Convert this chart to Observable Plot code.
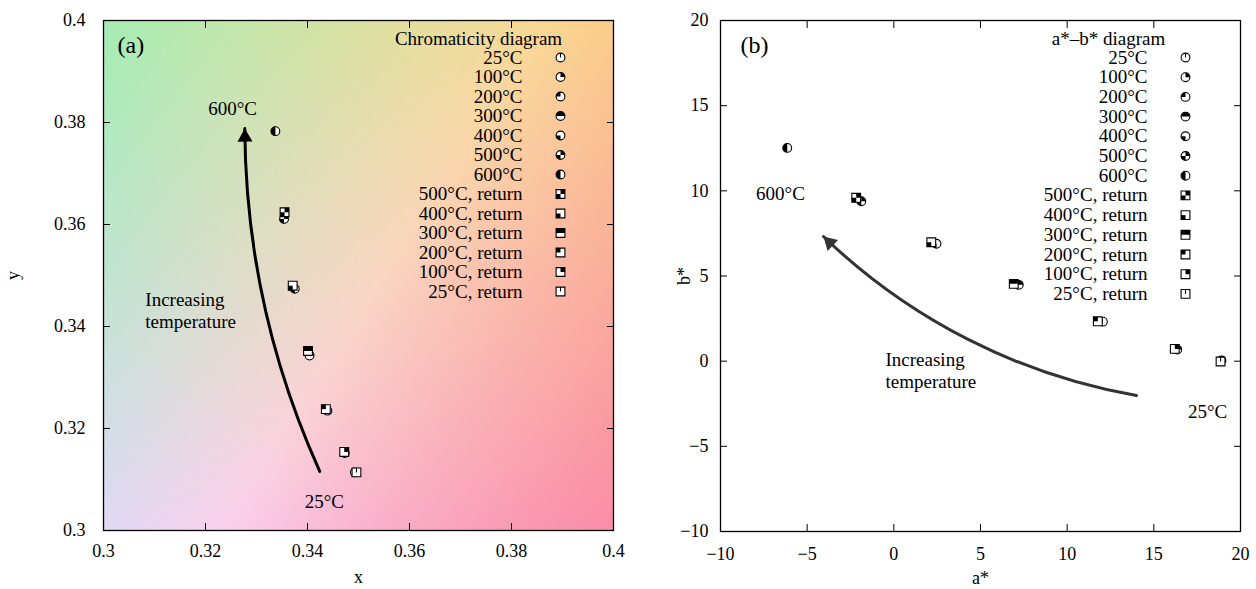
<!DOCTYPE html>
<html><head><meta charset="utf-8">
<script src="https://cdn.jsdelivr.net/npm/d3@7"></script>
<script src="https://cdn.jsdelivr.net/npm/@observablehq/plot@0.6"></script>
<style>
html,body{margin:0;padding:0;background:#fff;}
#wrap{position:relative;width:1256px;height:589px;overflow:hidden;}
#wrap svg{position:absolute;top:0;}
</style></head><body><div id="wrap"></div>
<script>
// ---------- data ----------
const heatLabels = ["25°C","100°C","200°C","300°C","400°C","500°C","600°C"];
const heatCodes = [0,1,2,3,4,5,6];
const returnLabels = ["500°C, return","400°C, return","300°C, return","200°C, return","100°C, return","25°C, return"];
const returnCodes = [5,4,3,2,1,0];

// panel (a): chromaticity x, y
const heatX = [0.3493,0.3473,0.3439,0.3404,0.3375,0.3354,0.3337];
const heatY = [0.3114,0.3152,0.3235,0.3343,0.3474,0.3611,0.3783];
const retX  = [0.3355,0.3371,0.3401,0.3436,0.3472,0.3496];
const retY  = [0.3624,0.3480,0.3352,0.3238,0.3154,0.3114];

// panel (b): a*, b*
const heatA = [18.9,16.35,12.06,7.21,2.46,-1.88,-6.15];
const heatB = [0.04,0.68,2.32,4.48,6.89,9.39,12.52];
const retA  = [-2.17,2.16,6.92,11.77,16.21,18.85];
const retB  = [9.59,6.98,4.54,2.34,0.72,-0.02];

const ticksA = [0.3,0.32,0.34,0.36,0.38,0.4];
const ticksB = [-10,-5,0,5,10,15,20];

const legendTitleA = "Chromaticity diagram";
const legendTitleB = "a*–b* diagram";

// annotations
const arrowA = {x1:0.3424, y1:0.3116, x2:0.3277, y2:0.3788};
const arrowB = {x1:14.0, y1:-2.02, x2:-4.06, y2:7.32};
const notesAText = ["600°C","Increasing\ntemperature","25°C"];
const notesAX = [0.3253,0.3082,0.3433];
const notesAY = [0.3828,0.3433,0.3057];
const notesBText = ["600°C","Increasing\ntemperature","25°C"];
const notesBX = [-6.54,-0.48,18.1];
const notesBY = [9.9,-0.52,-2.9];
const notesAnchor = ["middle","start","middle"];

// ---------- helpers ----------
const FONT = "'Liberation Serif','Times New Roman',serif";
const R = 4.4;
const radius = size => Math.sqrt(size/Math.PI);
const baseSym = {
  circle:{draw(ctx,size){const r=radius(size);ctx.moveTo(r,0);ctx.arc(0,0,r,0,2*Math.PI);ctx.closePath();}},
  square:{draw(ctx,size){const r=radius(size);ctx.rect(-r,-r,2*r,2*r);}}
};
function fillSym(shape, code){
  return {draw(ctx,size){
    const r = radius(size);
    const q4 = [[-Math.PI/2,0,0,-1],[-Math.PI,-Math.PI/2,-1,-1],[Math.PI/2,Math.PI,-1,0],[0,Math.PI/2,0,0]];
    for (let q=0;q<4;q++) if (code & (1<<q)) {
      const [a0,a1,ox,oy] = q4[q];
      if (shape==="circle"){ctx.moveTo(0,0);ctx.arc(0,0,r,a0,a1);ctx.closePath();}
      else ctx.rect(ox*r,oy*r,r,r);
    }
  }};
}
const tickSym = {draw(ctx,size){const r=radius(size);ctx.moveTo(0,0);ctx.lineTo(0,-r);}};
const headSym = {draw(ctx){ctx.moveTo(0,0);ctx.lineTo(-7.5,13);ctx.lineTo(7.5,13);ctx.closePath();}};

function markerMarks(shape, code, pos){
  const out = [Plot.dot([0], {...pos, symbol: baseSym[shape], r: R, fill:"white", stroke:"black", strokeWidth:1.1})];
  if (code > 0) out.push(Plot.dot([0], {...pos, symbol: fillSym(shape, code), r: R, fill:"black", stroke:"none"}));
  else out.push(Plot.dot([0], {...pos, symbol: tickSym, r: R, fill:"none", stroke:"black", strokeWidth:1.1}));
  return out;
}
function seriesMarks(xs, ys, codes, shape){
  const out = [];
  xs.forEach((_, i) => out.push(...markerMarks(shape, codes[i], {x: () => xs[i], y: () => ys[i]})));
  return out;
}
function legendMarks(title, cfg){
  const out = [Plot.text([title], {text: d=>d, frameAnchor:"top-right", dx: cfg.titleDx, dy: 18, textAnchor:"middle", lineAnchor:"middle", fontSize: 19})];
  const rows = heatLabels.map((l,i)=>({l, shape:"circle", code: heatCodes[i]}))
    .concat(returnLabels.map((l,i)=>({l, shape:"square", code: returnCodes[i]})));
  rows.forEach((row, i) => {
    const dy = cfg.dy0 + cfg.step*i;
    out.push(Plot.text([row.l], {text: d=>d, frameAnchor:"top-right", dx: cfg.textDx, dy, textAnchor:"end", lineAnchor:"middle", fontSize: 19}));
    out.push(...markerMarks(row.shape, row.code, {frameAnchor:"top-right", dx: cfg.markDx, dy}));
  });
  return out;
}
function noteMarks(texts, xs, ys){
  return texts.map((t,i)=>Plot.text([t], {text:d=>d, x:()=>xs[i], y:()=>ys[i], textAnchor: notesAnchor[i], lineAnchor:"middle", fontSize: 19, lineHeight: 1.16}));
}
// CIE xy -> sRGB background colour (fixed luminance, soft clipping)
function chroma(x, y){
  const S = 0.75;
  const X = x/y, Y = 1, Z = (1-x-y)/y;
  const r = S*(3.2406*X - 1.5372*Y - 0.4986*Z);
  const g = S*(-0.9689*X + 1.8758*Y + 0.0415*Z);
  const b = S*(0.0557*X - 0.2040*Y + 1.0570*Z);
  const m = Math.max(1, r, g, b);
  const gam = v => { v = Math.max(0, v/m); return v <= 0.0031308 ? 12.92*v : 1.055*Math.pow(v,1/2.4)-0.055; };
  const k = 0.98*255;
  return `rgb(${Math.round(gam(r)*k)},${Math.round(gam(g)*k)},${Math.round(gam(b)*k)})`;
}
const fmtA = d => String(+d.toFixed(2));
const fmtB = d => d < 0 ? "\u2212" + (-d) : String(d);

function axes(ticksX, ticksY, fmtX, fmtY, o){
  return [
    Plot.axisX({ticks: ticksX, tickSize: -7, tickPadding: o.xPad, tickFormat: fmtX, label: o.xLabel, labelAnchor:"center", labelOffset: o.xLabelOffset, labelArrow:"none"}),
    Plot.axisX({anchor:"top", ticks: ticksX, tickSize: -7, tickFormat: () => "", label: null}),
    Plot.axisY({ticks: ticksY, tickSize: -7, tickPadding: o.yPad, tickFormat: fmtY, label: o.yLabel, labelAnchor:"center", labelOffset: o.yLabelOffset, labelArrow:"none"}),
    Plot.axisY({anchor:"right", ticks: ticksY, tickSize: -7, tickFormat: () => "", label: null})
  ];
}

// ---------- panel (a) ----------
const plotA = Plot.plot({
  width: 628, height: 589,
  marginLeft: 103, marginRight: 15, marginTop: 20, marginBottom: 59,
  style: {fontFamily: FONT, fontSize: "18px", color: "black", background: "transparent"},
  x: {domain: [0.3, 0.4]},
  y: {domain: [0.3, 0.4]},
  color: {type: "identity"},
  marks: [
    Plot.raster({x1: 0.3, x2: 0.4, y1: 0.3, y2: 0.4, width: 160, height: 160, fill: chroma, imageRendering: "auto"}),
    ...axes(ticksA, ticksA, fmtA, fmtA, {xPad: 21, yPad: 25, xLabel: "x", xLabelOffset: 52, yLabel: "y", yLabelOffset: 97}),
    Plot.frame({stroke: "black", strokeWidth: 1.3}),
    Plot.arrow([arrowA], {x1:"x1", y1:"y1", x2:"x2", y2:"y2", bend: 12, headLength: 0, stroke:"black", strokeWidth: 3}),
    Plot.dot([arrowA], {x:"x2", y:"y2", symbol: headSym, r: 5, fill:"black", stroke:"none", rotate: -1}),
    ...noteMarks(notesAText, notesAX, notesAY),
    Plot.text(["(a)"], {text:d=>d, frameAnchor:"top-left", dx: 14, dy: 25, textAnchor:"start", lineAnchor:"middle", fontSize: 24}),
    ...seriesMarks(heatX, heatY, heatCodes, "circle"),
    ...seriesMarks(retX, retY, returnCodes, "square"),
    ...legendMarks(legendTitleA, {titleDx: -135, textDx: -91, markDx: -53, dy0: 37, step: 19.5})
  ]
});
plotA.style.left = "0px";

// ---------- panel (b) ----------
const plotB = Plot.plot({
  width: 628, height: 589,
  marginLeft: 92, marginRight: 16, marginTop: 20, marginBottom: 58,
  style: {fontFamily: FONT, fontSize: "18px", color: "black", background: "transparent"},
  x: {domain: [-10, 20]},
  y: {domain: [-10, 20]},
  marks: [
    ...axes(ticksB, ticksB, fmtB, fmtB, {xPad: 23, yPad: 19, xLabel: "a*", xLabelOffset: 52, yLabel: "b*", yLabelOffset: 43}),
    Plot.frame({stroke: "black", strokeWidth: 1.3}),
    Plot.arrow([arrowB], {x1:"x1", y1:"y1", x2:"x2", y2:"y2", bend: 17, headLength: 0, stroke:"#333", strokeWidth: 3}),
    Plot.dot([arrowB], {x:"x2", y:"y2", symbol: headSym, r: 5, fill:"#333", stroke:"none", rotate: -46}),
    ...noteMarks(notesBText, notesBX, notesBY),
    Plot.text(["(b)"], {text:d=>d, frameAnchor:"top-left", dx: 20, dy: 25, textAnchor:"start", lineAnchor:"middle", fontSize: 24}),
    ...seriesMarks(heatA, heatB, heatCodes, "circle"),
    ...seriesMarks(retA, retB, returnCodes, "square"),
    ...legendMarks(legendTitleB, {titleDx: -132, textDx: -93, markDx: -55, dy0: 37, step: 19.7})
  ]
});
plotB.style.left = "628px";

document.getElementById("wrap").append(plotA, plotB);
</script></body></html>
